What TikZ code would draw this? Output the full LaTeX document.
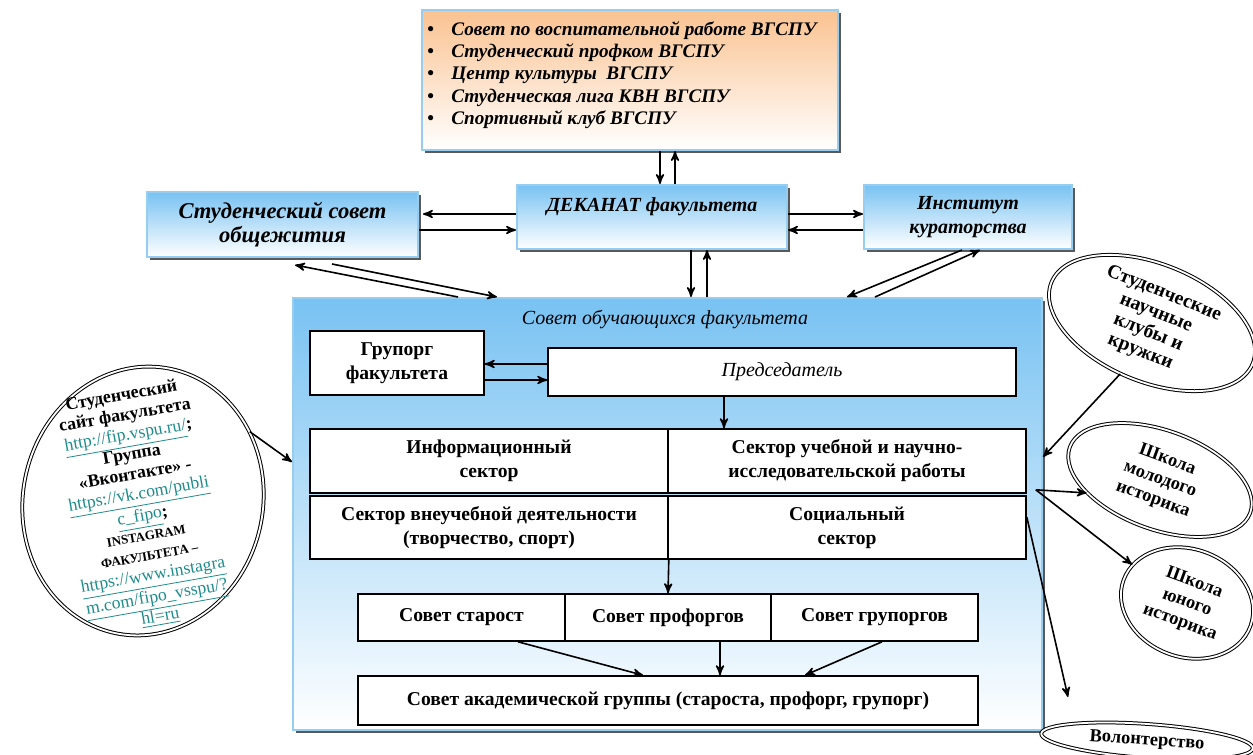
\documentclass[tikz,border=0pt]{standalone}
\usepackage{fontspec}
\setmainfont{Liberation Serif}
\usetikzlibrary{arrows,shapes.geometric,shadows}
\definecolor{skyblue}{RGB}{120,194,242}
\definecolor{edgeblue}{RGB}{150,205,240}
\definecolor{peach}{RGB}{250,194,144}
\definecolor{linkteal}{RGB}{30,140,140}
\newcommand{\weblink}[1]{\textcolor{linkteal}{\mdseries\fontsize{8.8}{10}\selectfont\underline{#1}}}

\begin{document}
\begin{tikzpicture}[x=0.5pt, y=-0.5pt, inner sep=0pt]
    \tikzstyle{shd}=[drop shadow={shadow xshift=1.5pt, shadow yshift=-1.5pt, fill=black!65, opacity=1}]
    \tikzstyle{bluebox}=[rectangle, draw=edgeblue, line width=1pt, top color=skyblue, bottom color=white, shd, align=center, font=\bfseries\itshape\fontsize{10}{12}\selectfont]
    \tikzstyle{wbox}=[rectangle, draw=black, line width=0.8pt, fill=white, align=center, font=\bfseries\fontsize{9.8}{12}\selectfont]
    \tikzstyle{oval}=[ellipse, draw, double, double distance=0.9pt, line width=0.5pt, fill=white, align=center, font=\bfseries\fontsize{9.2}{10.5}\selectfont]
    \tikzstyle{arr}=[->, >=stealth', line width=0.8pt]

    \useasboundingbox (0,0) rectangle (1253,755);

    % upper level
    \node[bluebox, top color=peach, minimum width=208pt, minimum height=70pt] (sov) at (630,80) {};
    \node[anchor=west, align=left, font=\bfseries\itshape\fontsize{9.6}{11.2}\selectfont] (sovlist) at (427,75)
        {\makebox[12pt][l]{\upshape\textbullet}Совет по воспитательной работе ВГСПУ\\
         \makebox[12pt][l]{\upshape\textbullet}Студенческий профком ВГСПУ\\
         \makebox[12pt][l]{\upshape\textbullet}Центр культуры~ ВГСПУ\\
         \makebox[12pt][l]{\upshape\textbullet}Студенческая лига КВН ВГСПУ\\
         \makebox[12pt][l]{\upshape\textbullet}Спортивный клуб ВГСПУ};

    \node[bluebox, minimum width=135pt, minimum height=32pt] (dek) at (652,217) {ДЕКАНАТ факультета\\ \mbox{}};
    \node[bluebox, font=\bfseries\itshape\fontsize{11.3}{12}\selectfont, minimum width=135.5pt, minimum height=32.5pt] (stud) at (282.5,224.5) {Студенческий совет\\общежития};
    \node[bluebox, minimum width=104pt, minimum height=32pt] (inst) at (968,217) {Институт\\кураторства};

    % council
    \node[bluebox, minimum width=374.5pt, minimum height=216pt] (fac) at (667.5,514) {};
    \node[font=\itshape\fontsize{10}{12}\selectfont] (factitle) at (665,319) {Совет обучающихся факультета};

    \node[wbox, minimum width=87pt, minimum height=32pt] (grp) at (397,363) {Групорг\\факультета};
    \node[wbox, font=\itshape\fontsize{10}{12}\selectfont, minimum width=234pt, minimum height=24pt] (pred) at (782,372) {Председатель};

    \node[wbox, minimum width=179pt, minimum height=32pt] (info) at (489,461) {Информационный\\сектор};
    \node[wbox, minimum width=179pt, minimum height=32pt] (nauch) at (847,461) {Сектор учебной и научно-\\исследовательской работы};
    \node[wbox, minimum width=179pt, minimum height=31.5pt] (vneuch) at (489,527.5) {Сектор внеучебной деятельности\\(творчество, спорт)};
    \node[wbox, minimum width=179pt, minimum height=31.5pt] (social) at (847,527.5) {Социальный\\сектор};

    \node[wbox, minimum width=103.5pt, minimum height=23.5pt] (starost) at (461.5,617.5) {Совет старост};
    \node[wbox, minimum width=103pt, minimum height=23.5pt] (proforg) at (668,617.5) {Совет профоргов};
    \node[wbox, minimum width=103.5pt, minimum height=23.5pt] (gruporg) at (874.5,617.5) {Совет групоргов};
    \node[wbox, minimum width=310pt, minimum height=24.5pt] (acad) at (668,700.5) {Совет академической группы (староста, профорг, групорг)};

    % ovals
    \node[oval, minimum width=120pt, minimum height=135pt, rotate=-12] (site) at (143,501) {};
    \node[align=center, rotate=10, font=\bfseries\fontsize{8.9}{10}\selectfont] (sitetext) at (141,507)
        {Студенческий\\сайт факультета\\\weblink{http://fip.vspu.ru/};\\Группа\\«Вконтакте» -\\\weblink{https://vk.com/publi}\\\weblink{c\_fipo};\\
         {\fontsize{6.5}{10}\selectfont INSTAGRAM}\\{\fontsize{6.5}{10}\selectfont ФАКУЛЬТЕТА –}\\\weblink{https://www.instagra}\\\weblink{m.com/fipo\_vsspu/?}\\\weblink{hl=ru}};

    \node[oval, font=\bfseries\fontsize{9.8}{10.5}\selectfont, minimum width=108.5pt, minimum height=59pt, rotate=-22] (clubs) at (1152,323) {Студенческие\\научные\\клубы и\\кружки};
    \node[oval, minimum width=96pt, minimum height=49.5pt, rotate=-20] (molod) at (1160,480) {Школа\\молодого\\историка};
    \node[oval, minimum width=67.5pt, minimum height=54pt, rotate=-20] (young) at (1187,603) {Школа\\юного\\историка};
    \node[oval, minimum width=106pt, minimum height=17pt, rotate=-4] (vol) at (1147,741) {Волонтерство};

    % links
    \draw[arr] ([xshift=15pt]sov.south) -- ([xshift=4pt]dek.north);
    \draw[arr] ([xshift=11.5pt]dek.north) -- ([xshift=22.5pt]sov.south);
    \draw[arr] ([yshift=1.5pt]dek.west) -- ([xshift=2pt,yshift=5.25pt]stud.east);
    \draw[arr] ([yshift=-2.75pt]stud.east) -- ([yshift=-6.5pt]dek.west);
    \draw[arr] ([yshift=1.5pt]dek.east) -- ([yshift=1.5pt]inst.west);
    \draw[arr] ([yshift=-6.5pt]inst.west) -- ([yshift=-6.5pt]dek.east);
    \draw[arr] ([xshift=19.5pt]dek.south) -- ([xshift=11.75pt]fac.north);
    \draw[arr] ([xshift=19.75pt]fac.north) -- ([xshift=27.5pt]dek.south);
    \draw[arr] ([xshift=-104.75pt]fac.north) -- ([xshift=6.25pt,yshift=-3.5pt]stud.south);
    \draw[arr] ([xshift=24.75pt,yshift=-3pt]stud.south) -- ([xshift=-85.25pt]fac.north);
    \draw[arr] ([xshift=-3pt]inst.south) -- ([xshift=89.75pt]fac.north);
    \draw[arr] ([xshift=103.75pt]fac.north) -- ([xshift=6pt]inst.south);

    \draw[arr] ([yshift=4pt]pred.west) -- ([yshift=-0.5pt]grp.east);
    \draw[arr] ([yshift=-8.5pt]grp.east) -- ([yshift=-4pt]pred.west);
    \draw[arr] ([xshift=-29pt]pred.south) -- ([xshift=-61.5pt]nauch.north);
    \draw[arr] (vneuch.south east) -- (proforg.north);
    \draw[arr] ([xshift=28.25pt]starost.south) -- ([xshift=-12.5pt]acad.north);
    \draw[arr] ([xshift=26pt]proforg.south) -- ([xshift=26pt]acad.north);
    \draw[arr] ([xshift=3.75pt]gruporg.south) -- ([xshift=68.5pt]acad.north);

    \draw[arr] (site.45) -- ([yshift=26pt]fac.west);
    \draw[arr] (clubs.260) -- ([yshift=28.5pt]fac.east);
    \draw[arr] ([xshift=4.5pt,yshift=2pt]nauch.south east) -- (molod.210);
    \draw[arr] ([xshift=4.5pt,yshift=2pt]nauch.south east) -- (young.165);
    \draw[arr] ([yshift=5.25pt]social.east) -- ([xshift=-39.5pt,yshift=22pt]vol.center);
\end{tikzpicture}
\end{document}
